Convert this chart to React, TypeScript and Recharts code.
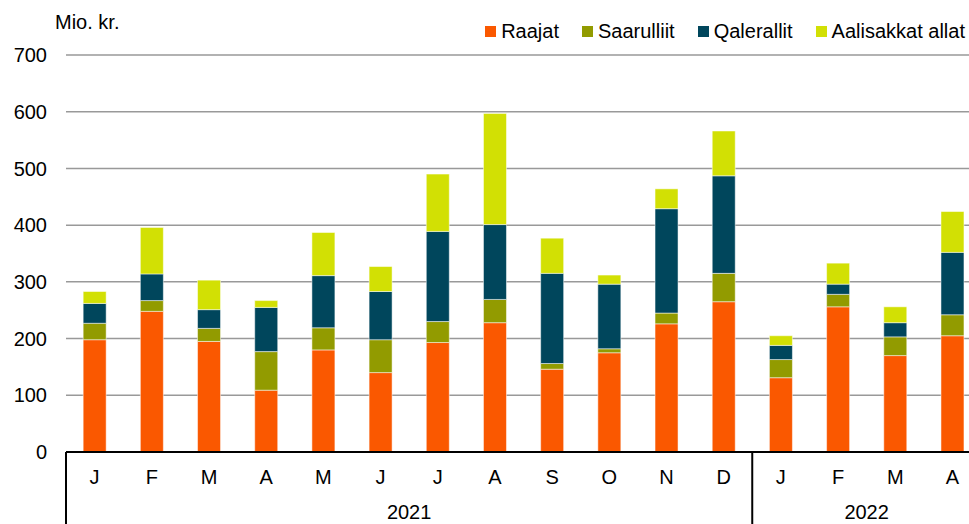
import React from "react";
import {
  BarChart,
  Bar,
  XAxis,
  YAxis,
  CartesianGrid,
  Legend,
} from "recharts";

// months shown on the axis, with the year each belongs to
const months = ["J", "F", "M", "A", "M", "J", "J", "A", "S", "O", "N", "D", "J", "F", "M", "A"];
const years = [
  { label: "2021", start: 0, count: 12 },
  { label: "2022", start: 12, count: 4 },
];

// mio. kr.
const raajat = [198, 248, 195, 109, 180, 140, 193, 228, 146, 175, 226, 265, 131, 256, 170, 205];
const saarulliit = [29, 19, 23, 68, 39, 58, 37, 41, 10, 7, 19, 50, 32, 22, 33, 37];
const qalerallit = [35, 47, 33, 78, 92, 85, 159, 132, 159, 114, 184, 172, 25, 18, 25, 110];
const aalisakkat = [21, 82, 52, 12, 76, 44, 101, 196, 62, 16, 35, 79, 17, 37, 28, 72];

const yTicks = [0, 100, 200, 300, 400, 500, 600, 700];

const series = [
  { key: "raajat", name: "Raajat", color: "#FA5800" },
  { key: "saarulliit", name: "Saarulliit", color: "#929B00" },
  { key: "qalerallit", name: "Qalerallit", color: "#00465C" },
  { key: "aalisakkat", name: "Aalisakkat allat", color: "#D2E004" },
];

const data = months.map((m, i) => ({
  m,
  raajat: raajat[i],
  saarulliit: saarulliit[i],
  qalerallit: qalerallit[i],
  aalisakkat: aalisakkat[i],
}));

const FONT = "'Liberation Sans', Arial, sans-serif";

const MonthTick = (props: any) => {
  const { x, y, payload } = props;
  const idx = payload.index;
  const half = payload.offset || 28.6;
  const year = years.find((yr) => yr.start === idx);
  return (
    <g>
      <text x={x} y={y + 32} textAnchor="middle" fontSize={20} fill="#000" fontFamily={FONT}>
        {payload.value}
      </text>
      {year && (
        <>
          <line x1={x - half} x2={x - half} y1={y} y2={y + 80} stroke="#000" strokeWidth={2} />
          <text
            x={x - half + year.count * half}
            y={y + 67}
            textAnchor="middle"
            fontSize={20}
            fill="#000"
            fontFamily={FONT}
          >
            {year.label}
          </text>
        </>
      )}
    </g>
  );
};

const LegendContent = () => (
  <div style={{ display: "flex", alignItems: "center", height: 24, fontFamily: FONT, fontSize: 20, color: "#000" }}>
    {series.map((s, i) => (
      <div key={s.key} style={{ display: "flex", alignItems: "center", marginLeft: i === 0 ? 0 : 23 }}>
        <span style={{ width: 11, height: 11, background: s.color, marginRight: 5, display: "inline-block" }} />
        <span>{s.name}</span>
      </div>
    ))}
  </div>
);

export default function App() {
  return (
    <div style={{ position: "fixed", left: 0, top: 0, width: 969, height: 524, overflow: "hidden", background: "#fff" }}>
      <BarChart
        width={985}
        height={524}
        data={data}
        margin={{ top: 31, right: 4, left: 0, bottom: 0 }}
        barCategoryGap="30%"
      >
        <CartesianGrid vertical={false} stroke="#999" strokeWidth={1.5} />
        <XAxis
          dataKey="m"
          interval={0}
          height={72}
          tickLine={false}
          tickSize={0}
          tickMargin={0}
          axisLine={{ stroke: "#000", strokeWidth: 2 }}
          tick={<MonthTick />}
        />
        <YAxis
          width={66}
          domain={[0, 700]}
          ticks={yTicks}
          tickLine={false}
          axisLine={false}
          tickSize={0}
          tickMargin={19}
          tick={{ fontSize: 20, fill: "#000", fontFamily: FONT }}
          label={{
            value: "Mio. kr.",
            content: (p: any) => (
              <text
                x={p.viewBox.x + 55}
                y={p.viewBox.y - 26}
                fontSize={20}
                fill="#000"
                fontFamily={FONT}
              >
                Mio. kr.
              </text>
            ),
          }}
        />
        <Legend
          verticalAlign="top"
          align="right"
          content={<LegendContent />}
          wrapperStyle={{ top: 19, right: 20, left: "auto", width: "auto" }}
        />
        {series.map((s) => (
          <Bar
            key={s.key}
            dataKey={s.key}
            name={s.name}
            stackId="a"
            fill={s.color}
            stroke="#ffffff"
            strokeWidth={0.5}
            isAnimationActive={false}
          />
        ))}
      </BarChart>
    </div>
  );
}
